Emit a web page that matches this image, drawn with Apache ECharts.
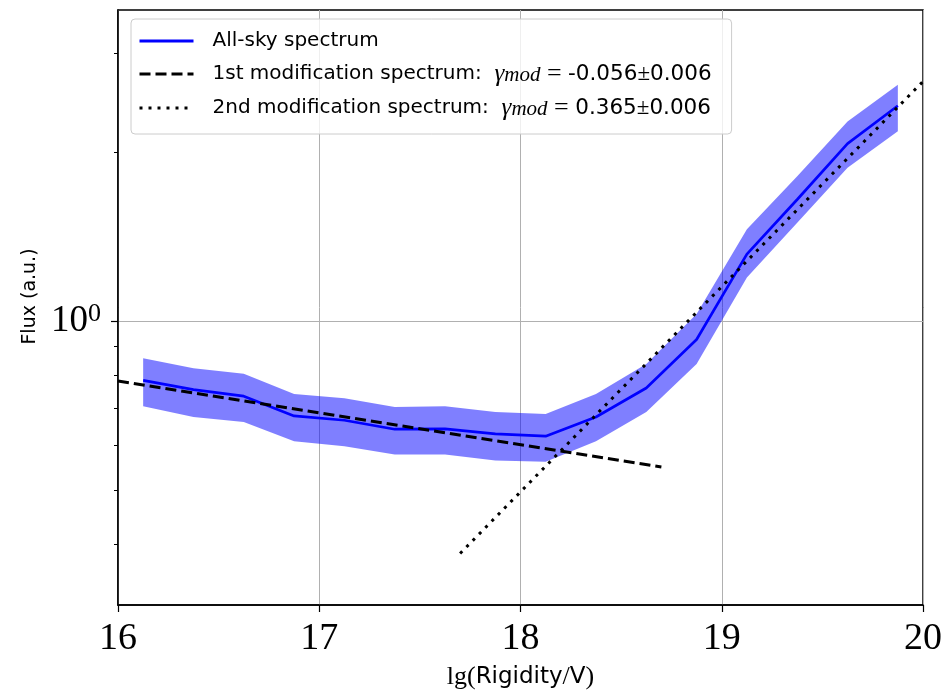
<!DOCTYPE html>
<html>
<head>
<meta charset="utf-8">
<script src="https://cdn.jsdelivr.net/npm/echarts@6/dist/echarts.min.js"></script>
<style>html,body{margin:0;padding:0;background:#fff;}#c{width:945px;height:695px;}</style>
</head>
<body>
<div id="c"></div>
<script>
// ---- data ----
const rigidityBins = [16.125, 16.375, 16.625, 16.875, 17.125, 17.375, 17.625, 17.875,
                      18.125, 18.375, 18.625, 18.875, 19.125, 19.375, 19.625, 19.875];
const fluxAllSky = [0.784, 0.755, 0.735, 0.678, 0.666, 0.642, 0.643, 0.630,
                    0.624, 0.675, 0.760, 0.927, 1.315, 1.645, 2.068, 2.415];
const fluxUpper  = [0.859, 0.824, 0.806, 0.742, 0.729, 0.703, 0.705, 0.689,
                    0.683, 0.742, 0.839, 1.029, 1.456, 1.810, 2.265, 2.632];
const fluxLower  = [0.705, 0.675, 0.661, 0.611, 0.599, 0.579, 0.579, 0.565,
                    0.562, 0.611, 0.689, 0.839, 1.195, 1.496, 1.873, 2.175];
const mod1X = [16.0, 18.7];
const mod1Flux = [0.782, 0.550];
const mod2X = [17.7, 20.0];
const mod2Flux = [0.386, 2.668];
const xTickValues = [16, 17, 18, 19, 20];
const yMajorTicks = [1];
const yMinorTicks = [0.4, 0.5, 0.6, 0.7, 0.8, 0.9, 2, 3];
const seriesNames = ['All-sky spectrum', '1st modification spectrum', '2nd modification spectrum'];
const legendTexts = {
  'All-sky spectrum': 'All-sky spectrum',
  '1st modification spectrum': '1st modification spectrum:  {g|γ}{sub|mod}{eq| = }{n|-0.056}{pm|±}{n|0.006}',
  '2nd modification spectrum': '2nd modification spectrum:  {g|γ}{sub|mod}{eq| = }{n|0.365}{pm|±}{n|0.006}'
};
const xAxisTitle = '{s|lg(}{a|Rigidity}{s|/}{a|V}{s|)}';
const yAxisTitle = 'Flux (a.u.)';

// ---- chart ----
const SERIF = 'Liberation Serif';
const SANS = 'DejaVu Sans';
const chart = echarts.init(document.getElementById('c'), null, {renderer: 'canvas'});

const pair = (xs, ys) => xs.map((x, i) => [x, ys[i]]);

const option = {
  animation: false,
  backgroundColor: '#ffffff',
  grid: {left: 118, right: 20, top: 10, bottom: 88, show: true,
         borderColor: '#000', borderWidth: 1.5, backgroundColor: 'transparent'},
  legend: {
    data: seriesNames,
    orient: 'vertical',
    left: 131, top: 19,
    itemWidth: 54, itemHeight: 14, itemGap: 8,
    padding: [10, 20, 13, 7],
    backgroundColor: 'rgba(255,255,255,0.8)',
    borderColor: '#cccccc', borderWidth: 1, borderRadius: 4,
    itemStyle: {opacity: 0, borderWidth: 0},
    lineStyle: {width: 3},
    formatter: name => legendTexts[name],
    textStyle: {
      fontFamily: SANS, fontSize: 20, color: '#000', lineHeight: 24,
      padding: [0, 0, 0, 14],
      rich: {
        g: {fontFamily: SERIF, fontStyle: 'italic', fontSize: 25, lineHeight: 24},
        sub: {fontFamily: SERIF, fontStyle: 'italic', fontSize: 21, lineHeight: 16, verticalAlign: 'bottom'},
        eq: {fontFamily: SERIF, fontSize: 26, lineHeight: 24},
        n: {fontFamily: SANS, fontSize: 21.5, lineHeight: 24},
        pm: {fontFamily: SERIF, fontSize: 23, lineHeight: 24}
      }
    }
  },
  xAxis: {
    type: 'value', min: 16, max: 20, interval: 1,
    name: xAxisTitle, nameLocation: 'middle', nameGap: 58,
    nameTextStyle: {
      rich: {
        s: {fontFamily: SERIF, fontSize: 26, color: '#000', lineHeight: 28},
        a: {fontFamily: SANS, fontSize: 23, color: '#000', lineHeight: 28}
      }
    },
    axisLine: {lineStyle: {color: '#000', width: 1.5}},
    axisTick: {show: true, inside: false, length: 7, lineStyle: {color: '#000', width: 1.2}},
    axisLabel: {fontFamily: SERIF, fontSize: 38, color: '#000', margin: 15,
                customValues: xTickValues},
    splitLine: {show: true, lineStyle: {color: '#b0b0b0', width: 1}}
  },
  yAxis: [{
    type: 'log', logBase: 10, min: 0.3125, max: 3.575,
    name: yAxisTitle, nameLocation: 'middle', nameGap: 78, nameRotate: 90,
    nameTextStyle: {fontFamily: SANS, fontSize: 19, color: '#000', padding: [0, 0, 0, 22]},
    axisLine: {lineStyle: {color: '#000', width: 1.5}},
    axisTick: {show: true, length: 7, customValues: yMajorTicks, lineStyle: {color: '#000', width: 1.2}},
    axisLabel: {
      customValues: yMajorTicks, margin: 17,
      formatter: v => '{b|10}{s|' + Math.round(Math.log10(v)) + '}',
      rich: {
        b: {fontFamily: SERIF, fontSize: 37, color: '#000', lineHeight: 40},
        s: {fontFamily: SERIF, fontSize: 26, color: '#000', lineHeight: 26, verticalAlign: 'top'}
      }
    },
    splitLine: {show: true, lineStyle: {color: '#b0b0b0', width: 1}}
  }, {
    type: 'log', logBase: 10, min: 0.3125, max: 3.575, position: 'left',
    axisLine: {show: false},
    axisTick: {show: true, length: 4, customValues: yMinorTicks, lineStyle: {color: '#000', width: 1}},
    axisLabel: {show: false},
    splitLine: {show: false}
  }],
  series: [
    {
      type: 'custom', name: 'band', silent: true, z: 1,
      data: [[rigidityBins[0], fluxAllSky[0]]],
      encode: {x: 0, y: 1},
      renderItem: (params, api) => {
        const pts = [];
        rigidityBins.forEach((x, i) => pts.push(api.coord([x, fluxUpper[i]])));
        for (let i = rigidityBins.length - 1; i >= 0; i--) pts.push(api.coord([rigidityBins[i], fluxLower[i]]));
        return {type: 'polygon', shape: {points: pts}, style: {fill: 'rgba(0,0,255,0.5)'}};
      }
    },
    {
      type: 'line', name: seriesNames[0], data: pair(rigidityBins, fluxAllSky),
      symbol: 'none', z: 3, color: '#0000ff',
      lineStyle: {color: '#0000ff', width: 2.7}
    },
    {
      type: 'line', name: seriesNames[1], data: pair(mod1X, mod1Flux),
      symbol: 'none', z: 4, color: '#000',
      lineStyle: {color: '#000', width: 3, type: [11, 5]}
    },
    {
      type: 'line', name: seriesNames[2], data: pair(mod2X, mod2Flux),
      symbol: 'none', z: 4, color: '#000',
      lineStyle: {color: '#000', width: 3, type: [3, 6]}
    }
  ]
};
chart.setOption(option);
</script>
</body>
</html>
